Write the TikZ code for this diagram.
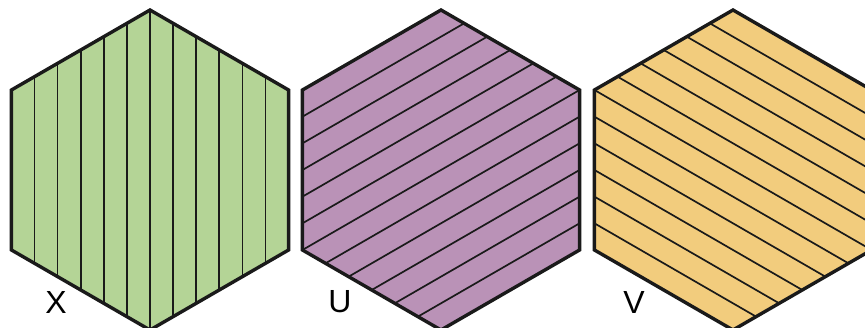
\documentclass[tikz,border=0pt]{standalone}
\usepackage{fontspec}
\setmainfont{Liberation Sans}
\definecolor{hexgreen}{RGB}{180,212,150}
\definecolor{hexpurple}{RGB}{186,146,183}
\definecolor{hexyellow}{RGB}{242,204,125}
\definecolor{hexline}{RGB}{26,26,26}
\tikzset{
  hexedge/.style={draw=hexline,line width=3.4pt,line join=miter},
  hatchline/.style={draw=hexline,line width=1.7pt}
}
\newcommand{\hexpath}{(90:160) -- (30:160) -- (-30:160) -- (-90:160) -- (-150:160) -- (150:160) -- cycle}
\begin{document}
\begin{tikzpicture}[x=1pt,y=1pt, every node/.style={font=\fontsize{32}{36}\selectfont}]
\useasboundingbox (0,0) rectangle (865,328);
\foreach \cx/\ang/\col/\lab/\lx in {150/0/hexgreen/X/56, 441/-60/hexpurple/U/340, 733/60/hexyellow/V/634} {
  \begin{scope}[shift={(\cx,158)}]
    \fill[\col] \hexpath;
    \begin{scope}
      \clip \hexpath;
      \foreach \k in {-5,...,5}
        \draw[hatchline,rotate=\ang] (\k*23.09,-170) -- (\k*23.09,170);
    \end{scope}
    \draw[hexedge] \hexpath;
  \end{scope}
  \node (lab\lab) at (\lx,26) {\lab};
}
\end{tikzpicture}
\end{document}
